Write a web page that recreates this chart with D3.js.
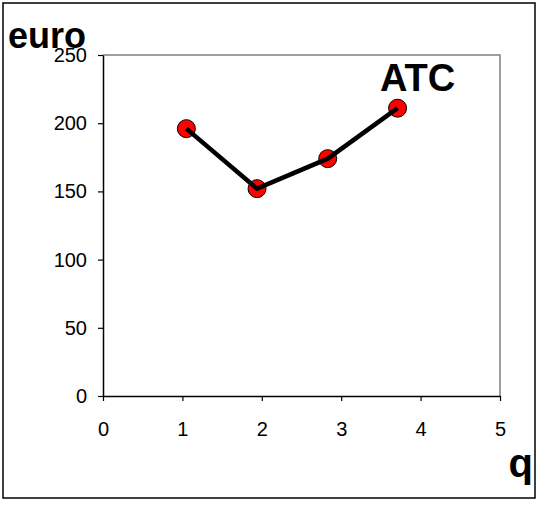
<!DOCTYPE html>
<html>
<head>
<meta charset="utf-8">
<script src="https://cdn.jsdelivr.net/npm/d3@7"></script>
<style>
  body { margin: 0; background: #fff; }
  text { font-family: Arial, "Liberation Sans", sans-serif; }
</style>
</head>
<body>
<svg id="chart"></svg>
<script>
// ATC curve: quantity vs average total cost
var qValues = [1.05, 1.94, 2.83, 3.71]
var atcValues = [196, 152, 174, 211]
var xTicks = [0, 1, 2, 3, 4, 5]
var yTicks = [0, 50, 100, 150, 200, 250]

var width = 540
var height = 505
var plotLeft = 103, plotRight = 500, plotTop = 55, plotBottom = 396

var svg = d3.select("#chart")
    .attr("width", width)
    .attr("height", height)

// outer frame
svg.append("rect")
    .attr("x", 3).attr("y", 3)
    .attr("width", 532).attr("height", 495)
    .attr("fill", "#fff")
    .attr("stroke", "#000")
    .attr("stroke-width", 1.5)

var x = d3.scaleLinear().domain([0, 5]).range([plotLeft, plotRight])
var y = d3.scaleLinear().domain([0, 250]).range([plotBottom, plotTop])

// plot box (grey top + right)
svg.append("path")
    .attr("d", "M" + plotLeft + "," + plotTop + "H" + plotRight + "V" + plotBottom)
    .attr("fill", "none")
    .attr("stroke", "#808080")
    .attr("stroke-width", 1.5)

var xAxis = svg.append("g")
    .attr("transform", "translate(0," + plotBottom + ")")
    .call(d3.axisBottom(x).tickValues(xTicks).tickFormat(d3.format("d"))
        .tickSize(5).tickPadding(21).tickSizeOuter(0))
var yAxis = svg.append("g")
    .attr("transform", "translate(" + plotLeft + ",0)")
    .call(d3.axisLeft(y).tickValues(yTicks).tickFormat(d3.format("d"))
        .tickSize(5).tickPadding(11).tickSizeOuter(0))

;[xAxis, yAxis].forEach(function(a) {
    a.selectAll("path").attr("stroke", "#000").attr("stroke-width", 1.5)
    a.selectAll("line").attr("stroke", "#000").attr("stroke-width", 1.2)
    a.selectAll("text")
        .attr("font-family", "Arial, 'Liberation Sans', sans-serif")
        .attr("font-size", "20px")
        .attr("fill", "#000")
})

var pts = qValues.map(function(q, i) { return [q, atcValues[i]] })
var line = d3.line().x(function(d) { return x(d[0]) }).y(function(d) { return y(d[1]) })

svg.selectAll("circle.pt")
    .data(pts)
    .enter().append("circle")
    .attr("class", "pt")
    .attr("cx", function(d) { return x(d[0]) })
    .attr("cy", function(d) { return y(d[1]) })
    .attr("r", 9)
    .attr("fill", "#ff0000")
    .attr("stroke", "#000")
    .attr("stroke-width", 1)

// line drawn over the markers like the reference
svg.append("path")
    .datum(pts)
    .attr("d", line)
    .attr("fill", "none")
    .attr("stroke", "#000")
    .attr("stroke-width", 4.5)

// labels
svg.append("text").attr("x", 8).attr("y", 48)
    .attr("font-size", "36px").attr("font-weight", "bold").text("euro")
svg.append("text").attr("x", 380).attr("y", 91)
    .attr("font-size", "38px").attr("font-weight", "bold").text("ATC")
svg.append("text").attr("x", 533).attr("y", 477)
    .attr("text-anchor", "end")
    .attr("font-size", "40px").attr("font-weight", "bold").text("q")
</script>
</body>
</html>
